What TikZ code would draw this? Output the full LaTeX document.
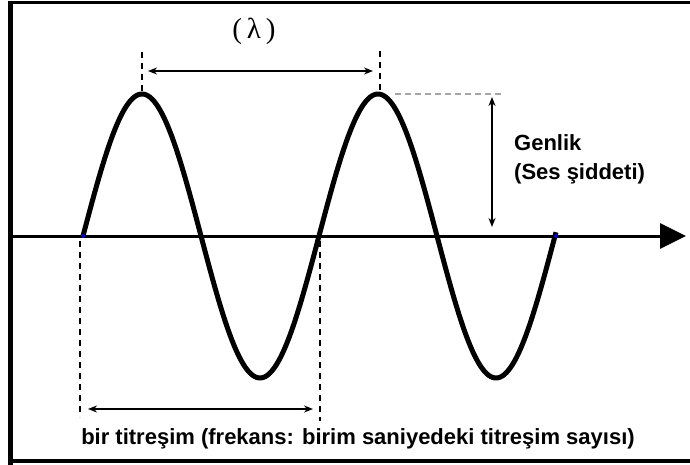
\documentclass[tikz,border=0pt]{standalone}
\usepackage{fontspec}
\setmainfont{Liberation Sans}
\newfontfamily\lamfont{Liberation Serif}
\usetikzlibrary{arrows.meta}
\begin{document}
\begin{tikzpicture}[x=1pt,y=-1pt,
  wave/.style={line width=5pt, line join=round},
  axisline/.style={line width=3pt, -{Triangle[length=26pt,width=25pt]}},
  dim/.style={line width=1.6pt, {Stealth[length=9pt,width=7pt]}-{Stealth[length=9pt,width=7pt]}},
  guide/.style={line width=1.6pt, dash pattern=on 6pt off 5pt},
  guidegray/.style={line width=2pt, gray!70, dash pattern=on 6pt off 4pt},
  lbl/.style={font=\fontsize{22}{29}\selectfont\bfseries, inner sep=0pt},
  dot/.style={circle, fill=blue!80!black, inner sep=0pt, minimum size=4pt}]
\useasboundingbox (0,0) rectangle (690,465);
\fill[white] (0,0) rectangle (690,465);
% frame
\draw[line width=5pt] (10.5,700) -- (10.5,2.5);
\draw[line width=3pt] (8,2.5) -- (700,2.5);
\draw[line width=4pt] (8,461) -- (700,461);
% axis
\coordinate (ax0) at (13,236);
\coordinate (ax1) at (686,236);
\draw[axisline] (ax0) -- (ax1);
% wave
\draw[wave] plot[domain=0:473, samples=240] ({83+\x},{236-142*sin((\x/236)*360)});
\node[dot] (s) at (83,236) {};
\node[dot] (e) at (556,236) {};
% wavelength
\coordinate (p1t) at (142,52);
\coordinate (p1b) at (142,91);
\coordinate (p2t) at (380,51);
\coordinate (p2b) at (380,91);
\draw[guide] (p1t) -- (p1b);
\draw[guide] (p2t) -- (p2b);
\coordinate (la) at (148,71);
\coordinate (lb) at (373,71);
\draw[dim] (la) -- (lb);
\node[inner sep=0pt, font=\lamfont\fontsize{29}{30}\selectfont] (lam) at (254,31) {(\,λ\,)};
% amplitude
\coordinate (h1) at (395,94);
\coordinate (h2) at (502,94);
\draw[guidegray] (h1) -- (h2);
\coordinate (va) at (492,97);
\coordinate (vb) at (492,227);
\draw[dim] (va) -- (vb);
\node[lbl, align=left, anchor=north west] (gen) at (514,134) {Genlik\\(Ses şiddeti)};
% period
\coordinate (q1t) at (80,241);
\coordinate (q1b) at (80,417);
\coordinate (q2t) at (320,241);
\coordinate (q2b) at (320,421);
\draw[guide] (q1t) -- (q1b);
\draw[guide] (q2t) -- (q2b);
\coordinate (fa) at (88,409);
\coordinate (fb) at (313,409);
\draw[dim] (fa) -- (fb);
\node[lbl, anchor=base] (cap) at (358,444) {bir titreşim (frekans: birim saniyedeki titreşim sayısı)};
\end{tikzpicture}
\end{document}
